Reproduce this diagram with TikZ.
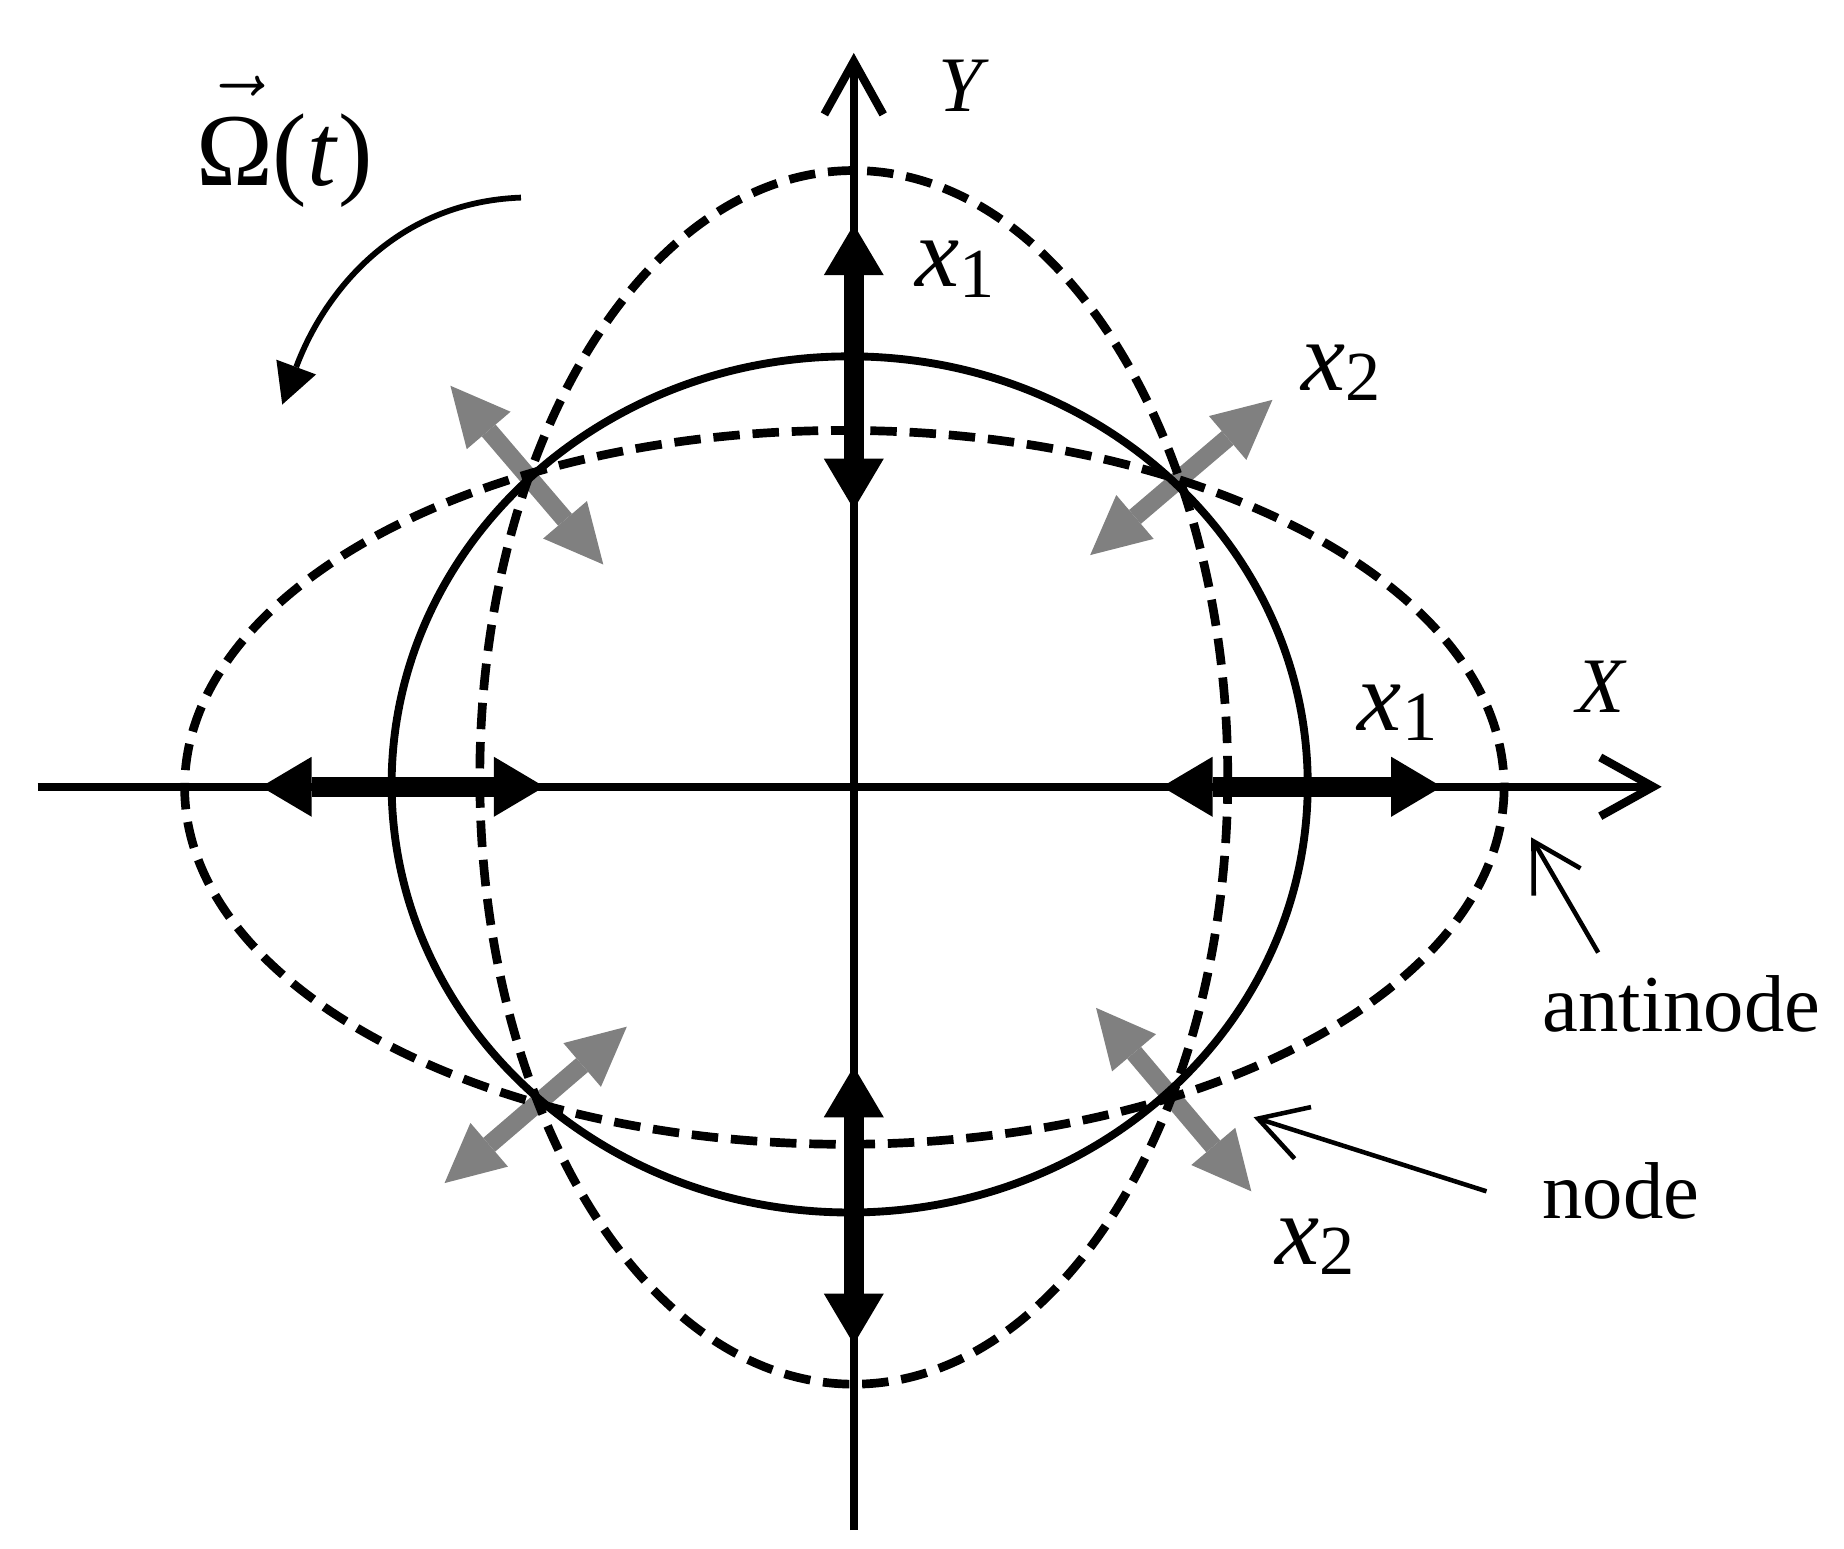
\documentclass[tikz,border=0pt]{standalone}
\usepackage{fontspec}
\setmainfont{Liberation Serif}
\usepackage{graphicx}
\usetikzlibrary{arrows.meta}
\newcommand\xlab[1]{\textit{x}\raisebox{-2.5pt}{\fontsize{17}{20}\selectfont #1}}
\tikzset{
  axisline/.style={line width=2pt, -{Straight Barb[length=4.5mm,width=5mm]}},
  solidcurve/.style={line width=1.9pt},
  dashcurve/.style={line width=2.1pt, dash pattern=on 6.4pt off 3.1pt},
  blackdbl/.style={line width=4.8pt,
    {Triangle[length=4.3mm,width=5.1mm,line width=0pt]}-{Triangle[length=4.3mm,width=5.1mm,line width=0pt]}},
  graydbl/.style={line width=4.4pt, draw=gray50, 
    {Triangle[length=5mm,width=4.9mm,line width=0pt]}-{Triangle[length=5mm,width=4.9mm,line width=0pt]}},
  rotarrow/.style={line width=1.4pt, -{Triangle[length=3.4mm,width=3.6mm,line width=0pt]}},
  callout/.style={line width=1.1pt, -{Straight Barb[length=4mm,width=4.6mm]}},
  biglab/.style={font=\fontsize{24}{28}\selectfont, anchor=base west, inner sep=0pt},
  omlab/.style={font=\fontsize{25}{29}\selectfont, anchor=base west, inner sep=0pt},
  axlab/.style={font=\fontsize{19}{22}\selectfont\itshape, anchor=base west, inner sep=0pt},
  wordlab/.style={font=\fontsize{19.5}{22}\selectfont, anchor=base west, inner sep=0pt},
}
\definecolor{gray50}{RGB}{128,128,128}
\begin{document}
\begin{tikzpicture}[x=0.01cm, y=-0.01cm]
\useasboundingbox (0,0) rectangle (1568,1317);
% coordinates
\coordinate (xl) at (32,669);
\coordinate (xr) at (1413,669);
\coordinate (yb) at (726,1301);
\coordinate (yt) at (726,45);
% gray arrows (behind curves)
\coordinate (g1a) at (383,328);  \coordinate (g1b) at (513,480);
\coordinate (g2a) at (927,472);  \coordinate (g2b) at (1082,340);
\coordinate (g3a) at (378,1006); \coordinate (g3b) at (533,873);
\coordinate (g4a) at (932,857);  \coordinate (g4b) at (1064,1013);
\draw[graydbl] (g1a) -- (g1b);
\draw[graydbl] (g2a) -- (g2b);
\draw[graydbl] (g3a) -- (g3b);
\draw[graydbl] (g4a) -- (g4b);
% curves
\draw[solidcurve] (722.5,667) ellipse [x radius=389.5, y radius=364];
\draw[dashcurve] (718,669.5) ellipse [x radius=561, y radius=303.5];
\draw[dashcurve] (726,661) ellipse [x radius=318, y radius=516];
% axes
\draw[axisline] (xl) -- (xr);
\draw[axisline] (yb) -- (yt);
% black double arrows
\coordinate (b1a) at (726,191);  \coordinate (b1b) at (726,433);
\coordinate (b2a) at (726,907);  \coordinate (b2b) at (726,1143);
\coordinate (b3a) at (222,669);  \coordinate (b3b) at (463,669);
\coordinate (b4a) at (988,669);  \coordinate (b4b) at (1226,669);
\draw[blackdbl] (b1a) -- (b1b);
\draw[blackdbl] (b2a) -- (b2b);
\draw[blackdbl] (b3a) -- (b3b);
\draw[blackdbl] (b4a) -- (b4b);
% rotation arrow
\coordinate (r0) at (443,168);
\coordinate (r1) at (240,344);
\draw[rotarrow] (r0) .. controls (335,172) and (275,250) .. (r1);
% labels
\node[omlab] (om) at (166,158) {$\vec{\hbox{\raisebox{0pt}[\dimexpr\height+3pt\relax]{Ω}}}$(\textit{t})};
\node[axlab] (ly) at (797,95) {Y};
\node[axlab] (lx) at (1340,606) {X};
\node[biglab] (x1a) at (778,244) {\xlab{1}};
\node[biglab] (x2a) at (1106,332) {\xlab{2}};
\node[biglab] (x1b) at (1154,621) {\xlab{1}};
\node[biglab] (x2b) at (1084,1075) {\xlab{2}};
\node[wordlab] (anti) at (1311,877) {antinode};
\node[wordlab] (nd) at (1311,1036) {node};
% callouts
\coordinate (c1s) at (1359,810); \coordinate (c1e) at (1302,712);
\coordinate (c2s) at (1264,1013); \coordinate (c2e) at (1066,950);
\draw[callout] (c1s) -- (c1e);
\draw[callout] (c2s) -- (c2e);
\end{tikzpicture}
\end{document}
